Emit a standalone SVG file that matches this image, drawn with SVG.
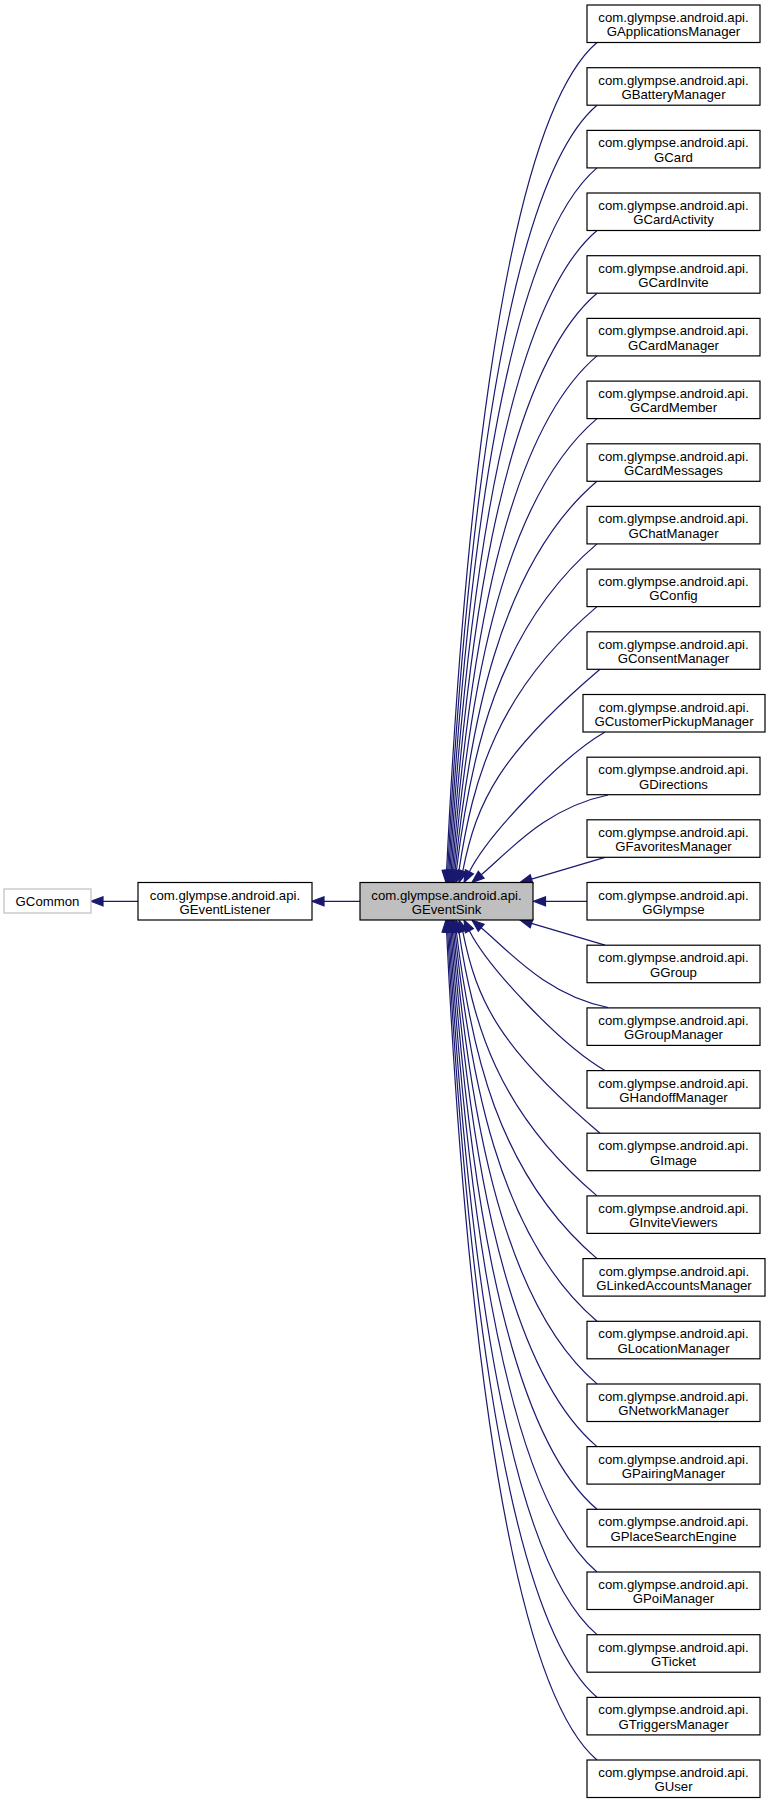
<svg xmlns="http://www.w3.org/2000/svg" width="771" height="1803" viewBox="0 0 771 1803">
<style>
.n rect{fill:#ffffff;stroke:#000000;stroke-width:1.2}
.n text{font-family:"Liberation Sans",Arial,Helvetica,sans-serif;font-size:13.2px;text-anchor:middle;fill:#000000}
#node-GCommon rect{stroke:#bfbfbf}
#node-GEventSink rect{fill:#bfbfbf}
#edges path{fill:none;stroke:#191970;stroke-width:1.2}
#edges polygon{fill:#191970;stroke:#191970;stroke-width:1.2}
</style>
<rect width="771" height="1803" fill="#ffffff"/>
<g id="edges">
<path d="M360,901.3 L324,901.3"/><polygon points="324,896.8 312,901.3 324,905.8"/>
<path d="M138,901.3 L103,901.3"/><polygon points="103,896.8 91,901.3 103,905.8"/>
<path d="M587,901.3 L545.5,901.3"/><polygon points="545.5,896.8 533.5,901.3 545.5,905.8"/>
<path d="M597,42.5 C497,127.5 460.6,580.7 446.6,870.5"/><polygon points="442.1,870.3 446,882.5 451.1,870.7"/>
<path d="M597,105.2 C497,190.2 461.72,602.6 447.72,870.52"/><polygon points="443.2,870.3 447,882.5 452.2,870.8"/>
<path d="M597,167.9 C497,252.9 462.84,624.6 448.84,870.53"/><polygon points="444.35,870.2 448,882.5 453.33,870.84"/>
<path d="M597,230.5 C497,315.5 463.96,646.5 449.96,870.54"/><polygon points="445.47,870.18 449,882.5 454.45,870.9"/>
<path d="M597,293.2 C497,378.2 465.19,668.5 451.19,870.56"/><polygon points="446.71,870.11 450,882.5 455.67,871.01"/>
<path d="M597,355.9 C497,440.9 466.43,690.5 452.43,870.59"/><polygon points="447.96,870.05 451,882.5 456.9,871.13"/>
<path d="M597,418.6 C497,503.6 467.66,712.4 453.66,870.62"/><polygon points="449.2,870 452,882.5 458.12,871.24"/>
<path d="M597,481.3 C497,566.3 469.01,734.4 455.01,870.67"/><polygon points="450.57,869.92 453,882.5 459.45,871.42"/>
<path d="M597,543.9 C497,628.9 470.35,756.4 456.35,870.73"/><polygon points="451.94,869.85 454,882.5 460.76,871.61"/>
<path d="M597,606.6 C497,691.6 472.91,778.4 458.91,870.86"/><polygon points="454.55,869.77 456,882.5 463.28,871.95"/>
<path d="M600,669.3 C500,754.3 476.76,800.5 462.76,871.1"/><polygon points="458.49,869.69 459,882.5 467.03,872.51"/>
<path d="M605,732 C560,758 487.3,836 469.37,871.77"/><polygon points="465.35,869.76 464,882.5 473.4,873.78"/>
<path d="M608,795 C545,808 508.1,852.4 481.2,874.8"/><polygon points="478.3,871.3 472,882.5 484.1,878.3"/>
<path d="M605,857.3 L531.5,879.09"/><polygon points="530.2,874.8 520,882.5 532.8,883.4"/>
<path d="M605,945.2 L531.5,923.41"/><polygon points="530.2,927.7 520,920 532.8,919.1"/>
<path d="M608,1007.5 C545,994.5 508.1,950.1 481.2,927.7"/><polygon points="478.3,931.2 472,920 484.1,924.2"/>
<path d="M605,1070.5 C560,1044.5 487.3,966.5 469.37,930.73"/><polygon points="465.35,932.74 464,920 473.4,928.72"/>
<path d="M600,1133.2 C500,1048.2 476.76,1002 462.76,931.4"/><polygon points="458.49,932.81 459,920 467.03,929.99"/>
<path d="M597,1195.9 C497,1110.9 472.91,1024.1 458.91,931.64"/><polygon points="454.55,932.73 456,920 463.28,930.55"/>
<path d="M597,1258.6 C497,1173.6 470.35,1046.1 456.35,931.77"/><polygon points="451.94,932.65 454,920 460.76,930.89"/>
<path d="M597,1321.2 C497,1236.2 469.01,1068.1 455.01,931.83"/><polygon points="450.57,932.58 453,920 459.45,931.08"/>
<path d="M597,1383.9 C497,1298.9 467.66,1090.1 453.66,931.88"/><polygon points="449.2,932.5 452,920 458.12,931.26"/>
<path d="M597,1446.6 C497,1361.6 466.43,1112 452.43,931.91"/><polygon points="447.96,932.45 451,920 456.9,931.37"/>
<path d="M597,1509.3 C497,1424.3 465.19,1134 451.19,931.94"/><polygon points="446.71,932.39 450,920 455.67,931.49"/>
<path d="M597,1572 C497,1487 463.96,1156 449.96,931.96"/><polygon points="445.47,932.32 449,920 454.45,931.6"/>
<path d="M597,1634.6 C497,1549.6 462.84,1177.9 448.84,931.97"/><polygon points="444.35,932.3 448,920 453.33,931.66"/>
<path d="M597,1697.3 C497,1612.3 461.72,1199.9 447.72,931.98"/><polygon points="443.2,932.2 447,920 452.2,931.7"/>
<path d="M597,1760 C497,1675 460.6,1221.8 446.6,932"/><polygon points="442.1,932.2 446,920 451.1,931.8"/>
</g>
<g id="node-GCommon" class="n"><rect x="4" y="889" width="87" height="24"/><text x="47.5" y="905.7">GCommon</text></g>
<g id="node-GEventListener" class="n"><rect x="138" y="882.5" width="174" height="37.5"/><text x="225" y="899.5">com.glympse.android.api.</text><text x="225" y="913.8">GEventListener</text></g>
<g id="node-GEventSink" class="n"><rect x="360" y="882.5" width="173" height="37.5"/><text x="446.5" y="899.5">com.glympse.android.api.</text><text x="446.5" y="913.8">GEventSink</text></g>
<g id="node-GApplicationsManager" class="n"><rect x="587" y="5" width="173" height="37.5"/><text x="673.5" y="22">com.glympse.android.api.</text><text x="673.5" y="36.3">GApplicationsManager</text></g>
<g id="node-GBatteryManager" class="n"><rect x="587" y="67.7" width="173" height="37.5"/><text x="673.5" y="84.7">com.glympse.android.api.</text><text x="673.5" y="99">GBatteryManager</text></g>
<g id="node-GCard" class="n"><rect x="587" y="130.4" width="173" height="37.5"/><text x="673.5" y="147.4">com.glympse.android.api.</text><text x="673.5" y="161.7">GCard</text></g>
<g id="node-GCardActivity" class="n"><rect x="587" y="193" width="173" height="37.5"/><text x="673.5" y="210">com.glympse.android.api.</text><text x="673.5" y="224.3">GCardActivity</text></g>
<g id="node-GCardInvite" class="n"><rect x="587" y="255.7" width="173" height="37.5"/><text x="673.5" y="272.7">com.glympse.android.api.</text><text x="673.5" y="287">GCardInvite</text></g>
<g id="node-GCardManager" class="n"><rect x="587" y="318.4" width="173" height="37.5"/><text x="673.5" y="335.4">com.glympse.android.api.</text><text x="673.5" y="349.7">GCardManager</text></g>
<g id="node-GCardMember" class="n"><rect x="587" y="381.1" width="173" height="37.5"/><text x="673.5" y="398.1">com.glympse.android.api.</text><text x="673.5" y="412.4">GCardMember</text></g>
<g id="node-GCardMessages" class="n"><rect x="587" y="443.8" width="173" height="37.5"/><text x="673.5" y="460.8">com.glympse.android.api.</text><text x="673.5" y="475.1">GCardMessages</text></g>
<g id="node-GChatManager" class="n"><rect x="587" y="506.4" width="173" height="37.5"/><text x="673.5" y="523.4">com.glympse.android.api.</text><text x="673.5" y="537.7">GChatManager</text></g>
<g id="node-GConfig" class="n"><rect x="587" y="569.1" width="173" height="37.5"/><text x="673.5" y="586.1">com.glympse.android.api.</text><text x="673.5" y="600.4">GConfig</text></g>
<g id="node-GConsentManager" class="n"><rect x="587" y="631.8" width="173" height="37.5"/><text x="673.5" y="648.8">com.glympse.android.api.</text><text x="673.5" y="663.1">GConsentManager</text></g>
<g id="node-GCustomerPickupManager" class="n"><rect x="583" y="694.5" width="182" height="37.5"/><text x="674" y="711.5">com.glympse.android.api.</text><text x="674" y="725.8">GCustomerPickupManager</text></g>
<g id="node-GDirections" class="n"><rect x="587" y="757.2" width="173" height="37.5"/><text x="673.5" y="774.2">com.glympse.android.api.</text><text x="673.5" y="788.5">GDirections</text></g>
<g id="node-GFavoritesManager" class="n"><rect x="587" y="819.8" width="173" height="37.5"/><text x="673.5" y="836.8">com.glympse.android.api.</text><text x="673.5" y="851.1">GFavoritesManager</text></g>
<g id="node-GGlympse" class="n"><rect x="587" y="882.5" width="173" height="37.5"/><text x="673.5" y="899.5">com.glympse.android.api.</text><text x="673.5" y="913.8">GGlympse</text></g>
<g id="node-GGroup" class="n"><rect x="587" y="945.2" width="173" height="37.5"/><text x="673.5" y="962.2">com.glympse.android.api.</text><text x="673.5" y="976.5">GGroup</text></g>
<g id="node-GGroupManager" class="n"><rect x="587" y="1007.9" width="173" height="37.5"/><text x="673.5" y="1024.9">com.glympse.android.api.</text><text x="673.5" y="1039.2">GGroupManager</text></g>
<g id="node-GHandoffManager" class="n"><rect x="587" y="1070.6" width="173" height="37.5"/><text x="673.5" y="1087.6">com.glympse.android.api.</text><text x="673.5" y="1101.9">GHandoffManager</text></g>
<g id="node-GImage" class="n"><rect x="587" y="1133.2" width="173" height="37.5"/><text x="673.5" y="1150.2">com.glympse.android.api.</text><text x="673.5" y="1164.5">GImage</text></g>
<g id="node-GInviteViewers" class="n"><rect x="587" y="1195.9" width="173" height="37.5"/><text x="673.5" y="1212.9">com.glympse.android.api.</text><text x="673.5" y="1227.2">GInviteViewers</text></g>
<g id="node-GLinkedAccountsManager" class="n"><rect x="583" y="1258.6" width="182" height="37.5"/><text x="674" y="1275.6">com.glympse.android.api.</text><text x="674" y="1289.9">GLinkedAccountsManager</text></g>
<g id="node-GLocationManager" class="n"><rect x="587" y="1321.3" width="173" height="37.5"/><text x="673.5" y="1338.3">com.glympse.android.api.</text><text x="673.5" y="1352.6">GLocationManager</text></g>
<g id="node-GNetworkManager" class="n"><rect x="587" y="1384" width="173" height="37.5"/><text x="673.5" y="1401">com.glympse.android.api.</text><text x="673.5" y="1415.3">GNetworkManager</text></g>
<g id="node-GPairingManager" class="n"><rect x="587" y="1446.6" width="173" height="37.5"/><text x="673.5" y="1463.6">com.glympse.android.api.</text><text x="673.5" y="1477.9">GPairingManager</text></g>
<g id="node-GPlaceSearchEngine" class="n"><rect x="587" y="1509.3" width="173" height="37.5"/><text x="673.5" y="1526.3">com.glympse.android.api.</text><text x="673.5" y="1540.6">GPlaceSearchEngine</text></g>
<g id="node-GPoiManager" class="n"><rect x="587" y="1572" width="173" height="37.5"/><text x="673.5" y="1589">com.glympse.android.api.</text><text x="673.5" y="1603.3">GPoiManager</text></g>
<g id="node-GTicket" class="n"><rect x="587" y="1634.7" width="173" height="37.5"/><text x="673.5" y="1651.7">com.glympse.android.api.</text><text x="673.5" y="1666">GTicket</text></g>
<g id="node-GTriggersManager" class="n"><rect x="587" y="1697.4" width="173" height="37.5"/><text x="673.5" y="1714.4">com.glympse.android.api.</text><text x="673.5" y="1728.7">GTriggersManager</text></g>
<g id="node-GUser" class="n"><rect x="587" y="1760" width="173" height="37.5"/><text x="673.5" y="1777">com.glympse.android.api.</text><text x="673.5" y="1791.3">GUser</text></g>
</svg>
